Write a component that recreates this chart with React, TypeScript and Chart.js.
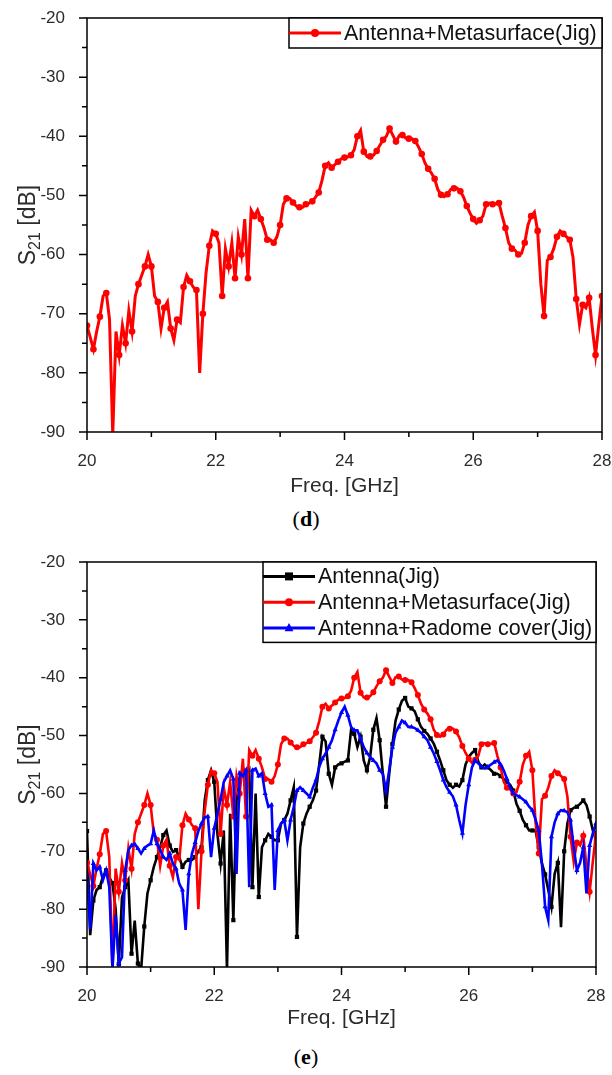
import React, { useEffect, useRef } from 'react';
import { Chart, registerables } from 'chart.js';

Chart.register(...registerables);

// ---------------- data ----------------
const FREQ_START = 20;
const FREQ_STEP = 0.05;
const X_MAJOR = [20, 22, 24, 26, 28];
const X_MINOR = [21, 23, 25, 27];
const Y_MAJOR = [-90, -80, -70, -60, -50, -40, -30, -20];
const Y_MINOR = [-85, -75, -65, -55, -45, -35, -25];
const X_TITLE = 'Freq. [GHz]';
const Y_TITLE_MAIN = 'S';
const Y_TITLE_SUB = '21';
const Y_TITLE_UNIT = ' [dB]';
const LABEL_ANT = 'Antenna(Jig)';
const LABEL_META = 'Antenna+Metasurface(Jig)';
const LABEL_RADOME = 'Antenna+Radome cover(Jig)';
const CAPTION_D = 'd';
const CAPTION_E = 'e';

// S21 [dB], 20.00 .. 28.00 GHz every 0.05 GHz
const S21_META = [
  -72, -74, -76, -73, -70.5, -67, -66.5, -71, -90.5, -73,
  -77, -72, -75, -69.5, -73, -67, -65, -63.5, -62, -60,
  -62, -67, -68, -72.5, -69, -68, -72.5, -74.5, -71, -71.5,
  -65.5, -63.5, -64.5, -65.5, -66, -80, -70, -63, -58.5, -56,
  -56.5, -58, -67, -59, -62, -58, -64, -57, -60, -54,
  -64, -52.5, -53.5, -52.5, -54, -55.5, -57.5, -57.5, -58, -57,
  -55, -51.5, -50.5, -50.5, -51.2, -51.8, -52, -52, -51.5, -51.3,
  -51, -50.3, -49.5, -47.5, -45, -44.5, -45.3, -44.8, -44.3, -43.8,
  -43.6, -43.5, -43.2, -42.3, -40, -39, -42.6, -43.4, -43.4, -43.2,
  -42.5, -41.5, -40.6, -40, -38.7, -39.8, -40.9, -39.9, -39.8, -40.3,
  -40.4, -40.4, -40.8, -41.8, -43, -44.5, -45.5, -46.2, -47.2, -49,
  -49.9, -50.2, -49.8, -49, -48.8, -48.8, -49.3, -50.3, -51.8, -53,
  -54, -54.7, -54.2, -53.5, -51.5, -51.3, -51.5, -51.4, -51.3, -53.5,
  -55.5, -58, -59, -59.3, -60, -59.8, -58, -55, -53.5, -52.8,
  -56, -65, -70.4, -61, -60.4, -59, -57, -56, -56.5, -57,
  -57.5, -60.5, -67.5, -71.8, -68.5, -69, -67.3, -72.5, -77, -71.8,
  -67,
];

const S21_ANT = [
  -66.5, -84.5, -78.5, -76.7, -76.2, -74.4, -73.3, -74.5, -75.5, -80,
  -89.5, -78, -76.2, -75, -87.7, -82, -89.4, -90.5, -83, -77.3,
  -75, -72.7, -71, -69.3, -67.2, -66.4, -69, -70.1, -69.8, -71,
  -72.7, -71.8, -71.5, -71.5, -71, -70, -69.3, -61.2, -57.7, -56,
  -58, -67, -72.1, -66.4, -90.5, -63.5, -81.9, -61.2, -57.7, -55.5,
  -57, -56, -76.2, -60, -77.9, -69.3, -68.1, -67, -67.5, -68.1,
  -68.1, -65.2, -64.6, -63.5, -61.2, -58.9, -84.8, -69.3, -65.2, -63.5,
  -62.3, -61.2, -59.5, -55, -50.2, -51, -56.6, -58.5, -55.5, -55,
  -54.8, -54.5, -54.3, -49.1, -49.7, -52, -50.2, -54.3, -56, -53.7,
  -49, -47, -50.8, -56.6, -62.3, -56.6, -51.5, -47.4, -45.5, -44,
  -43.5, -45, -45.3, -45.8, -47.2, -48.5, -49.2, -49.7, -50.5, -51.4,
  -52.8, -54.3, -56, -57.7, -58.5, -59, -58.5, -58.8, -57.7, -55,
  -53.7, -53, -52.5, -54.5, -55.5, -55, -55.5, -56, -56.6, -56.6,
  -57, -57.5, -58, -58.5, -59.5, -61.8, -63, -64.6, -65.5, -66.4,
  -66.4, -66.4, -69.3, -72.1, -74, -76.7, -79.6, -73.9, -72, -83.1,
  -70, -65.2, -62.9, -62.5, -62.3, -61.8, -61.2, -62, -64, -66.4,
  -68,
];

const S21_RADOME = [
  -74, -83.5, -72.1, -73.3, -72.7, -75, -73.3, -76.2, -90.5, -81,
  -89.4, -88.3, -73.3, -69.8, -69, -68.7, -69.5, -70.4, -69.5, -69,
  -68.7, -66.4, -68.7, -69.8, -71, -71.5, -70.4, -72.1, -73, -75.6,
  -76.7, -83.6, -73.9, -70.4, -68.5, -66.5, -65.2, -64.1, -64, -71,
  -66, -63.5, -61, -58, -57, -56, -57.5, -73.9, -56.5, -57,
  -56, -76.2, -56, -55.7, -57, -56.5, -60, -62.3, -62, -76.7,
  -66.4, -65.2, -64.6, -68.1, -64.6, -62.3, -59.5, -58.9, -59.5, -60,
  -60.6, -59, -57.7, -55.4, -54, -53.1, -52, -50.8, -49, -47.4,
  -46, -45, -46.5, -48.5, -49.1, -49.1, -50.5, -52, -53, -53.7,
  -54.3, -54.8, -56, -56.6, -59.5, -56, -52, -49.5, -48.5, -47.4,
  -47.8, -48.5, -48.5, -48.7, -49.1, -49.5, -50.2, -50.8, -52, -53.1,
  -54.5, -56, -57.7, -58.9, -59.8, -60.5, -62, -64.6, -66.9, -62,
  -58.5, -55.5, -54.3, -54.8, -55.4, -55.7, -55.4, -55, -54.6, -54.3,
  -55, -56, -57.5, -59, -60, -60.3, -60.6, -61, -61.5, -62.3,
  -62.9, -64.5, -66.4, -72.1, -79.6, -81.9, -67.5, -65, -63.5, -62.9,
  -63, -63.2, -64.6, -69.3, -73.3, -72, -69.3, -77.3, -69, -66.9,
  -65.2,
];

// ---------------- helpers ----------------
const SANS = '"Liberation Sans", Arial, sans-serif';
const TICK_FONT = { family: SANS, size: 17 };
const TEXT_COLOR = '#2b2b2b';

function toPoints(vals: number[]) {
  return vals.map((v, i) => ({ x: +(FREQ_START + i * FREQ_STEP).toFixed(2), y: v }));
}

function drawMarker(ctx: CanvasRenderingContext2D, style: string, x: number, y: number, r: number, color: string) {
  ctx.fillStyle = color;
  ctx.beginPath();
  if (style === 'rect') {
    ctx.rect(x - r, y - r, 2 * r, 2 * r);
  } else if (style === 'triangle') {
    ctx.moveTo(x, y - r * 1.25);
    ctx.lineTo(x + r * 1.1, y + r * 0.8);
    ctx.lineTo(x - r * 1.1, y + r * 0.8);
    ctx.closePath();
  } else {
    ctx.arc(x, y, r, 0, Math.PI * 2);
  }
  ctx.fill();
}

const framePlugin = {
  id: 'frame',
  afterDatasetsDraw(chart: any) {
    const { ctx, chartArea: a, scales } = chart;
    const xs = scales.x;
    const ys = scales.y;
    ctx.save();
    ctx.strokeStyle = '#000';
    ctx.lineWidth = 1.5;
    ctx.strokeRect(a.left, a.top, a.right - a.left, a.bottom - a.top);
    ctx.beginPath();
    X_MAJOR.forEach((v) => {
      const p = xs.getPixelForValue(v);
      ctx.moveTo(p, a.bottom);
      ctx.lineTo(p, a.bottom + 8);
    });
    X_MINOR.forEach((v) => {
      const p = xs.getPixelForValue(v);
      ctx.moveTo(p, a.bottom);
      ctx.lineTo(p, a.bottom + 5);
    });
    Y_MAJOR.forEach((v) => {
      const p = ys.getPixelForValue(v);
      ctx.moveTo(a.left - 8, p);
      ctx.lineTo(a.left, p);
    });
    Y_MINOR.forEach((v) => {
      const p = ys.getPixelForValue(v);
      ctx.moveTo(a.left - 5, p);
      ctx.lineTo(a.left, p);
    });
    ctx.stroke();
    ctx.restore();
  },
};

const titlesPlugin = {
  id: 'titles',
  afterDraw(chart: any, _args: any, opts: any) {
    const { ctx, chartArea: a } = chart;
    ctx.save();
    ctx.fillStyle = TEXT_COLOR;
    // x title
    ctx.font = `21px ${SANS}`;
    ctx.textAlign = 'center';
    ctx.textBaseline = 'middle';
    ctx.fillText(X_TITLE, (a.left + a.right) / 2, opts.xTitleY);
    // y title (rotated, with subscript)
    const big = `23px ${SANS}`;
    const small = `16px ${SANS}`;
    ctx.font = big;
    const wS = ctx.measureText(Y_TITLE_MAIN).width;
    const wU = ctx.measureText(Y_TITLE_UNIT).width;
    ctx.font = small;
    const wSub = ctx.measureText(Y_TITLE_SUB).width;
    const total = wS + wSub + wU;
    ctx.translate(opts.yTitleX, (a.top + a.bottom) / 2);
    ctx.rotate(-Math.PI / 2);
    ctx.textAlign = 'left';
    ctx.textBaseline = 'alphabetic';
    let x = -total / 2;
    const base = 8;
    ctx.font = big;
    ctx.fillText(Y_TITLE_MAIN, x, base);
    x += wS;
    ctx.font = small;
    ctx.fillText(Y_TITLE_SUB, x, base + 5);
    x += wSub;
    ctx.font = big;
    ctx.fillText(Y_TITLE_UNIT, x, base);
    ctx.restore();
  },
};

const boxLegendPlugin = {
  id: 'boxLegend',
  afterDatasetsDraw(chart: any, _args: any, opts: any) {
    const { ctx, chartArea: a } = chart;
    const ds = chart.data.datasets;
    const left = opts.left;
    const top = a.top;
    const right = a.right;
    const h = opts.pad * 2 + ds.length * opts.rowH;
    ctx.save();
    ctx.fillStyle = '#fff';
    ctx.fillRect(left, top, right - left, h);
    ctx.strokeStyle = '#000';
    ctx.lineWidth = 1.5;
    ctx.strokeRect(left, top, right - left, h);
    ds.forEach((d: any, i: number) => {
      const y = top + opts.pad + opts.rowH * (i + 0.5);
      ctx.strokeStyle = d.borderColor;
      ctx.lineWidth = 3;
      ctx.beginPath();
      ctx.moveTo(left, y);
      ctx.lineTo(left + opts.lineLen, y);
      ctx.stroke();
      drawMarker(ctx, d.pointStyle, left + opts.lineLen / 2, y, 4, d.borderColor);
      ctx.fillStyle = '#111';
      ctx.font = `21.5px ${SANS}`;
      ctx.textAlign = 'left';
      ctx.textBaseline = 'middle';
      ctx.fillText(d.label, left + opts.lineLen + 3, y + 1);
    });
    ctx.restore();
  },
};

type Series = { label: string; values: number[]; color: string; marker: string; order: number };

type PanelProps = {
  top: number;
  height: number;
  series: Series[];
  padTop: number;
  padRight: number;
  xAxisH: number;
  legendLeft: number;
  legendRowH: number;
  legendPad: number;
  lineWidth: number;
  markerR: number;
  xTitleY: number;
};

function PlotPanel(p: PanelProps) {
  const ref = useRef<HTMLCanvasElement | null>(null);
  useEffect(() => {
    if (!ref.current) return;
    const chart = new Chart(ref.current, {
      type: 'line',
      data: {
        datasets: p.series.map((s) => ({
          label: s.label,
          data: toPoints(s.values),
          borderColor: s.color,
          backgroundColor: s.color,
          borderWidth: p.lineWidth,
          pointStyle: s.marker as any,
          pointRadius: (c: any) => (c.dataIndex % 2 === 0 ? p.markerR : 0),
          pointBorderWidth: 0,
          pointBackgroundColor: s.color,
          tension: 0,
          fill: false,
          order: s.order,
        })),
      },
      options: {
        animation: false,
        responsive: false,
        devicePixelRatio: 1,
        layout: { padding: { left: 0, top: p.padTop, right: p.padRight, bottom: 0 } },
        plugins: {
          legend: { display: false },
          tooltip: { enabled: false },
          boxLegend: { left: p.legendLeft, rowH: p.legendRowH, pad: p.legendPad, lineLen: 52 },
          titles: { xTitleY: p.xTitleY, yTitleX: 27 },
        } as any,
        scales: {
          x: {
            type: 'linear',
            min: 20,
            max: 28,
            grid: { display: false },
            border: { display: false },
            ticks: {
              padding: 11,
              color: TEXT_COLOR,
              font: TICK_FONT,
              maxRotation: 0,
              autoSkip: false,
              callback: (v: any) => String(v),
            },
            afterBuildTicks: (s: any) => {
              s.ticks = X_MAJOR.map((v) => ({ value: v }));
            },
            afterFit: (s: any) => {
              s.height = p.xAxisH;
              s.paddingLeft = 0;
              s.paddingRight = 0;
              s.paddingTop = 0;
              s.paddingBottom = 0;
            },
          },
          y: {
            type: 'linear',
            min: -90,
            max: -20,
            grid: { display: false },
            border: { display: false },
            ticks: {
              padding: 14,
              color: TEXT_COLOR,
              font: TICK_FONT,
              autoSkip: false,
              callback: (v: any) => String(v),
            },
            afterBuildTicks: (s: any) => {
              s.ticks = Y_MAJOR.map((v) => ({ value: v }));
            },
            afterFit: (s: any) => {
              s.width = 87;
              s.paddingLeft = 0;
              s.paddingRight = 0;
              s.paddingTop = 0;
              s.paddingBottom = 0;
            },
          },
        },
      } as any,
      plugins: [framePlugin, boxLegendPlugin, titlesPlugin],
    });
    return () => chart.destroy();
  }, []);
  return (
    <canvas
      ref={ref}
      width={612}
      height={p.height}
      style={{ position: 'absolute', left: 0, top: p.top, width: 612, height: p.height }}
    />
  );
}

function Caption({ letter, centerY }: { letter: string; centerY: number }) {
  return (
    <div
      style={{
        position: 'absolute',
        left: 0,
        width: 612,
        top: centerY - 13,
        height: 26,
        lineHeight: '26px',
        textAlign: 'center',
        fontFamily: '"Liberation Serif", "Times New Roman", serif',
        fontSize: 22,
        color: '#000',
      }}
    >
      (<b>{letter}</b>)
    </div>
  );
}

export default function App() {
  const seriesD: Series[] = [
    { label: LABEL_META, values: S21_META, color: '#ff0000', marker: 'circle', order: 1 },
  ];
  const seriesE: Series[] = [
    { label: LABEL_ANT, values: S21_ANT, color: '#000000', marker: 'rect', order: 3 },
    { label: LABEL_META, values: S21_META, color: '#ff0000', marker: 'circle', order: 2 },
    { label: LABEL_RADOME, values: S21_RADOME, color: '#0000ff', marker: 'triangle', order: 1 },
  ];
  return (
    <div style={{ position: 'absolute', left: 0, top: 0, width: 612, height: 1075, background: '#fff', overflow: 'hidden' }}>
      <PlotPanel
        top={0}
        height={500}
        series={seriesD}
        padTop={18}
        padRight={10}
        xAxisH={68}
        legendLeft={289}
        legendRowH={26}
        legendPad={2}
        lineWidth={3}
        markerR={3.3}
        xTitleY={486}
      />
      <Caption letter={CAPTION_D} centerY={519} />
      <PlotPanel
        top={540}
        height={490}
        series={seriesE}
        padTop={22}
        padRight={16}
        xAxisH={63}
        legendLeft={263}
        legendRowH={25.8}
        legendPad={1.5}
        lineWidth={2.6}
        markerR={3}
        xTitleY={478}
      />
      <Caption letter={CAPTION_E} centerY={1057} />
    </div>
  );
}
